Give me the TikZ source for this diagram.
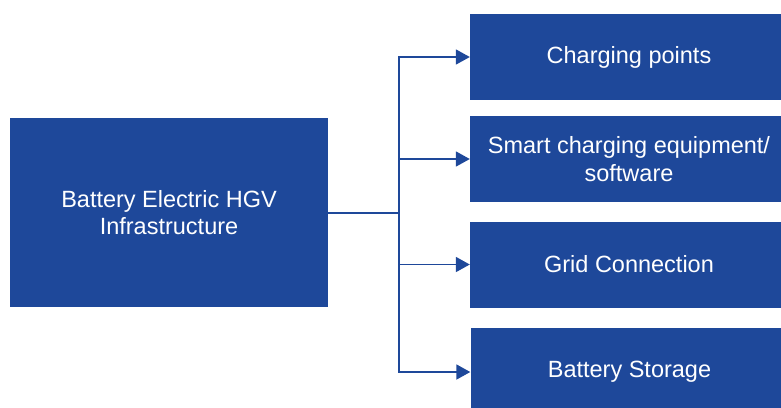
\documentclass[tikz,border=0pt]{standalone}
\usepackage{fontspec}
\setmainfont{Liberation Sans}
\usetikzlibrary{arrows.meta}
\definecolor{boxblue}{RGB}{30,72,154}
\begin{document}
\begin{tikzpicture}[x=1pt,y=-1pt,
  blk/.style={fill=boxblue,draw=none,text=white,align=center,inner sep=0pt,
    font=\fontsize{23.5}{27.5}\selectfont},
  conn/.style={draw=boxblue,line width=1.8pt},
  arr/.style={conn,-{Triangle[length=14pt,width=15pt]}}]
\useasboundingbox (0,0) rectangle (781,407);
\clip (0,0) rectangle (781,407);
\node[blk,minimum width=318pt,minimum height=189pt] (L) at (169,212.5) {Battery Electric HGV\\Infrastructure};
\node[blk,minimum width=318pt,minimum height=86pt] (R1) at (629,57) {\raisebox{-2pt}{Charging points}};
\node[blk,minimum width=318pt,minimum height=86pt] (R2) at (629,159) {Smart charging equipment/\\software};
\node[blk,minimum width=318pt,minimum height=86pt] (R3) at (629,264.5) {Grid Connection};
\node[blk,minimum width=318pt,minimum height=88pt] (R4) at (629.5,372) {Battery Storage};
\coordinate (J) at (399,213);
\draw[conn] (L.east|-J) -- (J);
\draw[arr] (J) |- (R1.west);
\draw[arr] (J) |- (R2.west);
\draw[arr] (J) |- (R3.west);
\draw[arr] (J) |- (R4.west);
\end{tikzpicture}
\end{document}
